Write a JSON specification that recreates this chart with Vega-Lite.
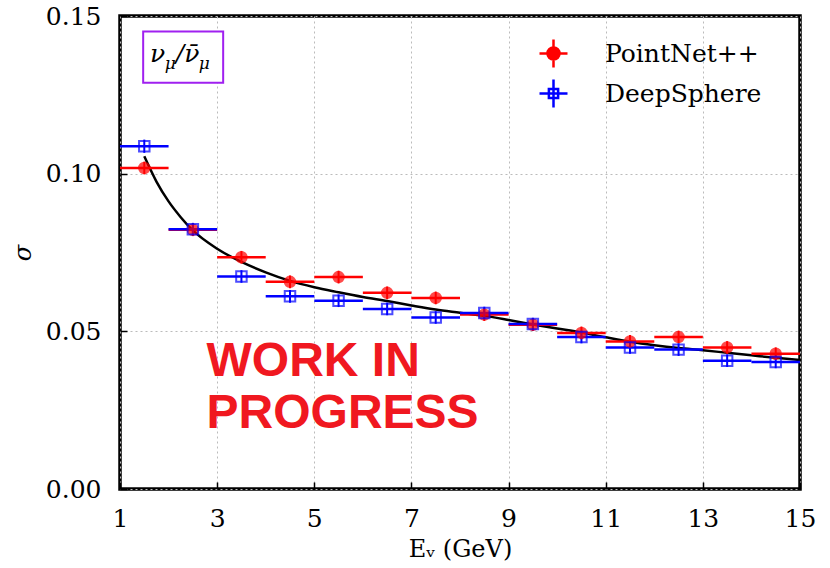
{
  "$schema": "https://vega.github.io/schema/vega-lite/v6.json",
  "width": 680,
  "height": 473,
  "autosize": {"type": "none"},
  "padding": {"left": 120, "top": 16, "right": 30, "bottom": 79},
  "background": "white",
  "config": {
    "view": {"stroke": "black", "strokeWidth": 3.5},
    "axis": {
      "domain": false,
      "grid": true,
      "gridColor": "#bbbbbb",
      "gridDash": [2, 3],
      "gridWidth": 1,
      "tickSize": -7,
      "tickColor": "black",
      "tickWidth": 1.5,
      "labelFont": "DejaVu Serif",
      "labelFontSize": 25,
      "labelColor": "black",
      "labelFlush": false,
      "labelOverlap": false,
      "titleFont": "DejaVu Serif",
      "titleFontSize": 24,
      "titleFontWeight": "normal",
      "titleColor": "black"
    },
    "legend": {
      "title": null,
      "orient": "none",
      "legendX": 418,
      "legendY": 22,
      "padding": 0,
      "symbolSize": 784,
      "symbolStrokeWidth": 2.5,
      "symbolOpacity": 1,
      "labelFont": "DejaVu Serif",
      "labelFontSize": 25,
      "labelColor": "black",
      "labelOffset": 36,
      "rowPadding": 1
    }
  },
  "datasets": {
    "pts": [
      {"model": "PointNet++", "E": 1.5, "E_lo": 1.0, "E_hi": 2.0, "sigma": 0.1018, "s_lo": 0.0998, "s_hi": 0.1038},
      {"model": "PointNet++", "E": 2.5, "E_lo": 2.0, "E_hi": 3.0, "sigma": 0.0822, "s_lo": 0.0802, "s_hi": 0.0842},
      {"model": "PointNet++", "E": 3.5, "E_lo": 3.0, "E_hi": 4.0, "sigma": 0.0735, "s_lo": 0.0715, "s_hi": 0.0755},
      {"model": "PointNet++", "E": 4.5, "E_lo": 4.0, "E_hi": 5.0, "sigma": 0.0657, "s_lo": 0.0637, "s_hi": 0.0677},
      {"model": "PointNet++", "E": 5.5, "E_lo": 5.0, "E_hi": 6.0, "sigma": 0.0672, "s_lo": 0.0652, "s_hi": 0.0692},
      {"model": "PointNet++", "E": 6.5, "E_lo": 6.0, "E_hi": 7.0, "sigma": 0.0622, "s_lo": 0.0602, "s_hi": 0.0642},
      {"model": "PointNet++", "E": 7.5, "E_lo": 7.0, "E_hi": 8.0, "sigma": 0.0606, "s_lo": 0.0586, "s_hi": 0.0626},
      {"model": "PointNet++", "E": 8.5, "E_lo": 8.0, "E_hi": 9.0, "sigma": 0.0553, "s_lo": 0.0533, "s_hi": 0.0573},
      {"model": "PointNet++", "E": 9.5, "E_lo": 9.0, "E_hi": 10.0, "sigma": 0.0521, "s_lo": 0.0501, "s_hi": 0.0541},
      {"model": "PointNet++", "E": 10.5, "E_lo": 10.0, "E_hi": 11.0, "sigma": 0.0495, "s_lo": 0.0475, "s_hi": 0.0515},
      {"model": "PointNet++", "E": 11.5, "E_lo": 11.0, "E_hi": 12.0, "sigma": 0.0468, "s_lo": 0.0448, "s_hi": 0.0488},
      {"model": "PointNet++", "E": 12.5, "E_lo": 12.0, "E_hi": 13.0, "sigma": 0.0482, "s_lo": 0.0462, "s_hi": 0.0502},
      {"model": "PointNet++", "E": 13.5, "E_lo": 13.0, "E_hi": 14.0, "sigma": 0.0449, "s_lo": 0.0429, "s_hi": 0.0469},
      {"model": "PointNet++", "E": 14.5, "E_lo": 14.0, "E_hi": 15.0, "sigma": 0.0429, "s_lo": 0.0409, "s_hi": 0.0449},
      {"model": "DeepSphere", "E": 1.5, "E_lo": 1.0, "E_hi": 2.0, "sigma": 0.1087, "s_lo": 0.1066, "s_hi": 0.1108},
      {"model": "DeepSphere", "E": 2.5, "E_lo": 2.0, "E_hi": 3.0, "sigma": 0.0824, "s_lo": 0.0804, "s_hi": 0.0844},
      {"model": "DeepSphere", "E": 3.5, "E_lo": 3.0, "E_hi": 4.0, "sigma": 0.0674, "s_lo": 0.0654, "s_hi": 0.0694},
      {"model": "DeepSphere", "E": 4.5, "E_lo": 4.0, "E_hi": 5.0, "sigma": 0.0611, "s_lo": 0.0591, "s_hi": 0.0631},
      {"model": "DeepSphere", "E": 5.5, "E_lo": 5.0, "E_hi": 6.0, "sigma": 0.0597, "s_lo": 0.0577, "s_hi": 0.0617},
      {"model": "DeepSphere", "E": 6.5, "E_lo": 6.0, "E_hi": 7.0, "sigma": 0.0571, "s_lo": 0.0551, "s_hi": 0.0591},
      {"model": "DeepSphere", "E": 7.5, "E_lo": 7.0, "E_hi": 8.0, "sigma": 0.0544, "s_lo": 0.0524, "s_hi": 0.0564},
      {"model": "DeepSphere", "E": 8.5, "E_lo": 8.0, "E_hi": 9.0, "sigma": 0.0558, "s_lo": 0.0538, "s_hi": 0.0578},
      {"model": "DeepSphere", "E": 9.5, "E_lo": 9.0, "E_hi": 10.0, "sigma": 0.0523, "s_lo": 0.0503, "s_hi": 0.0543},
      {"model": "DeepSphere", "E": 10.5, "E_lo": 10.0, "E_hi": 11.0, "sigma": 0.0482, "s_lo": 0.0462, "s_hi": 0.0502},
      {"model": "DeepSphere", "E": 11.5, "E_lo": 11.0, "E_hi": 12.0, "sigma": 0.0449, "s_lo": 0.0429, "s_hi": 0.0469},
      {"model": "DeepSphere", "E": 12.5, "E_lo": 12.0, "E_hi": 13.0, "sigma": 0.0442, "s_lo": 0.0422, "s_hi": 0.0462},
      {"model": "DeepSphere", "E": 13.5, "E_lo": 13.0, "E_hi": 14.0, "sigma": 0.0407, "s_lo": 0.0387, "s_hi": 0.0427},
      {"model": "DeepSphere", "E": 14.5, "E_lo": 14.0, "E_hi": 15.0, "sigma": 0.0403, "s_lo": 0.0383, "s_hi": 0.0423}
    ],
    "fit": [
      {"E": 1.5, "sigma": 0.1055},
      {"E": 1.75, "sigma": 0.0975},
      {"E": 2.0, "sigma": 0.0912},
      {"E": 2.25, "sigma": 0.0862},
      {"E": 2.5, "sigma": 0.0820},
      {"E": 3.0, "sigma": 0.0762},
      {"E": 3.5, "sigma": 0.0720},
      {"E": 4.0, "sigma": 0.0687},
      {"E": 4.5, "sigma": 0.0660},
      {"E": 5.0, "sigma": 0.0640},
      {"E": 5.5, "sigma": 0.0624},
      {"E": 6.0, "sigma": 0.0609},
      {"E": 6.5, "sigma": 0.0596},
      {"E": 7.0, "sigma": 0.0582},
      {"E": 7.5, "sigma": 0.0569},
      {"E": 8.0, "sigma": 0.0559},
      {"E": 8.5, "sigma": 0.0549},
      {"E": 9.0, "sigma": 0.0536},
      {"E": 9.5, "sigma": 0.0522},
      {"E": 10.0, "sigma": 0.0509},
      {"E": 10.5, "sigma": 0.0496},
      {"E": 11.0, "sigma": 0.0481},
      {"E": 11.5, "sigma": 0.0467},
      {"E": 12.0, "sigma": 0.0456},
      {"E": 12.5, "sigma": 0.0447},
      {"E": 13.0, "sigma": 0.0440},
      {"E": 13.5, "sigma": 0.0432},
      {"E": 14.0, "sigma": 0.0424},
      {"E": 14.5, "sigma": 0.0416},
      {"E": 15.0, "sigma": 0.0409}
    ]
  },
  "layer": [
    {
      "data": {"name": "fit"},
      "mark": {"type": "line", "color": "black", "strokeWidth": 2.5, "interpolate": "monotone"},
      "encoding": {
        "x": {"field": "E", "type": "quantitative", "scale": {"domain": [1, 15], "nice": false}, "axis": {"values": [1, 3, 5, 7, 9, 11, 13, 15], "title": "Eᵥ (GeV)", "labelPadding": 24, "titlePadding": 6}},
        "y": {"field": "sigma", "type": "quantitative", "scale": {"domain": [0, 0.15], "nice": false, "zero": false}, "axis": {"values": [0, 0.05, 0.1, 0.15], "format": ".2f", "title": "σ", "titleFontStyle": "italic", "labelPadding": 26, "titlePadding": 10}}
      }
    },
    {
      "data": {"name": "pts"},
      "mark": {"type": "point", "opacity": 0, "strokeWidth": 2.5},
      "encoding": {
        "x": {"field": "E", "type": "quantitative"},
        "y": {"field": "sigma", "type": "quantitative"},
        "color": {"field": "model", "type": "nominal", "scale": {"domain": ["PointNet++", "DeepSphere"], "range": ["#ff0000", "#0000ff"]}},
        "fill": {"field": "model", "type": "nominal", "scale": {"domain": ["PointNet++", "DeepSphere"], "range": ["#ff0000", "transparent"]}},
        "shape": {"field": "model", "type": "nominal", "scale": {"domain": ["PointNet++", "DeepSphere"], "range": ["M-1,0H1M0,-1V1M0.43,0A0.43,0.43,0,1,1,-0.43,0A0.43,0.43,0,1,1,0.43,0Z", "M-1,0H1M0,-1V1M-0.33,-0.33H0.33V0.33H-0.33Z"]}}
      }
    },
    {
      "data": {"name": "pts"},
      "mark": {"type": "rule", "strokeWidth": 2.5},
      "encoding": {
        "x": {"field": "E_lo", "type": "quantitative"},
        "x2": {"field": "E_hi"},
        "y": {"field": "sigma", "type": "quantitative"},
        "color": {"field": "model", "type": "nominal"}
      }
    },
    {
      "data": {"name": "pts"},
      "mark": {"type": "rule", "strokeWidth": 2},
      "encoding": {
        "x": {"field": "E", "type": "quantitative"},
        "y": {"field": "s_lo", "type": "quantitative"},
        "y2": {"field": "s_hi"},
        "color": {"field": "model", "type": "nominal"}
      }
    },
    {
      "data": {"name": "pts"},
      "mark": {"type": "point", "filled": false, "strokeWidth": 2, "size": 110},
      "encoding": {
        "x": {"field": "E", "type": "quantitative"},
        "y": {"field": "sigma", "type": "quantitative"},
        "color": {"field": "model", "type": "nominal"},
        "fill": {"condition": {"test": "datum.model === 'PointNet++'", "value": "#ff0000"}, "value": "transparent"},
        "shape": {"condition": {"test": "datum.model === 'PointNet++'", "value": "circle"}, "value": "square"}
      }
    },
    {
      "data": {"values": [{}]},
      "mark": {"type": "rect", "fill": "white", "stroke": "#a020f0", "strokeWidth": 2},
      "encoding": {
        "x": {"datum": 1.477, "type": "quantitative"},
        "x2": {"datum": 3.124},
        "y": {"datum": 0.1451, "type": "quantitative"},
        "y2": {"datum": 0.1288}
      }
    },
    {
      "data": {"values": [{}]},
      "mark": {"type": "text", "text": "ν", "font": "DejaVu Serif", "fontStyle": "italic", "fontSize": 25, "align": "left", "baseline": "alphabetic", "color": "black"},
      "encoding": {"x": {"datum": 1.62, "type": "quantitative"}, "y": {"datum": 0.1355, "type": "quantitative"}}
    },
    {
      "data": {"values": [{}]},
      "mark": {"type": "text", "text": "μ", "font": "DejaVu Serif", "fontStyle": "italic", "fontSize": 17, "align": "left", "baseline": "alphabetic", "color": "black"},
      "encoding": {"x": {"datum": 1.92, "type": "quantitative"}, "y": {"datum": 0.1332, "type": "quantitative"}}
    },
    {
      "data": {"values": [{}]},
      "mark": {"type": "text", "text": "/ν̄", "font": "DejaVu Serif", "fontStyle": "italic", "fontSize": 25, "align": "left", "baseline": "alphabetic", "color": "black"},
      "encoding": {"x": {"datum": 2.15, "type": "quantitative"}, "y": {"datum": 0.1355, "type": "quantitative"}}
    },
    {
      "data": {"values": [{}]},
      "mark": {"type": "text", "text": "μ", "font": "DejaVu Serif", "fontStyle": "italic", "fontSize": 17, "align": "left", "baseline": "alphabetic", "color": "black"},
      "encoding": {"x": {"datum": 2.62, "type": "quantitative"}, "y": {"datum": 0.1332, "type": "quantitative"}}
    },
    {
      "data": {"values": [{}]},
      "mark": {"type": "text", "text": "WORK IN\nPROGRESS", "lineBreak": "\n", "lineHeight": 52, "font": "Liberation Sans", "fontWeight": "bold", "fontSize": 48, "align": "left", "baseline": "alphabetic", "color": "#f01820"},
      "encoding": {"x": {"datum": 2.782, "type": "quantitative"}, "y": {"datum": 0.0357, "type": "quantitative"}}
    }
  ]
}
